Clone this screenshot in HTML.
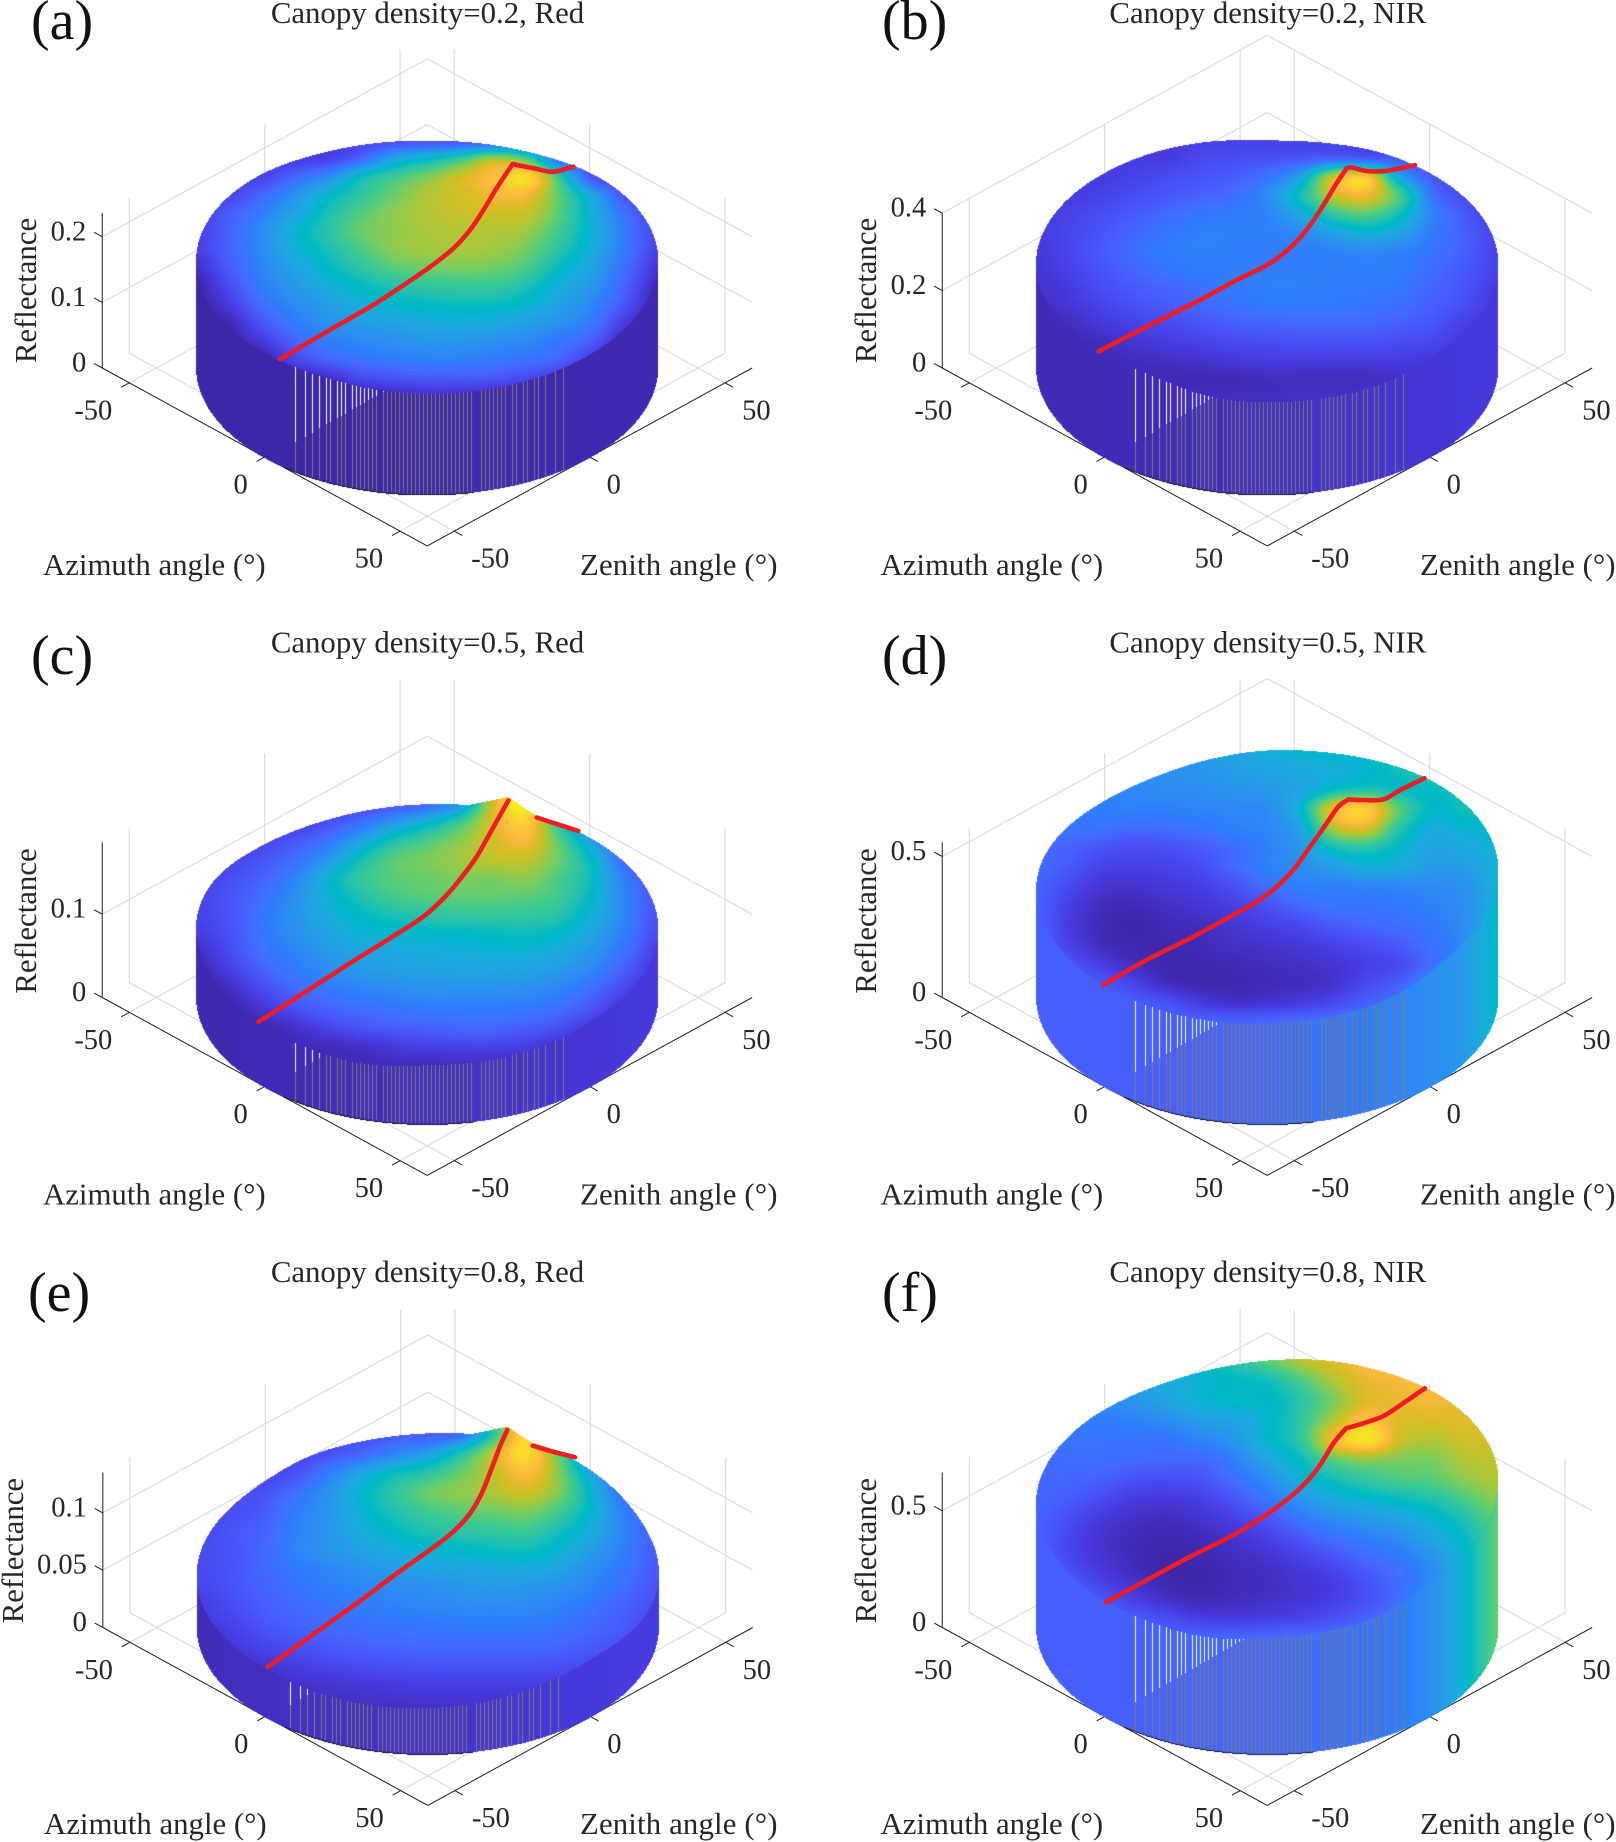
<!DOCTYPE html>
<html lang="en">
<head>
<meta charset="utf-8">
<title>Canopy reflectance surfaces</title>
<style>
html,body{margin:0;padding:0;background:#fff;width:1616px;height:1842px;overflow:hidden}
#stage{position:relative;width:1616px;height:1842px}
#stage>*{position:absolute;left:0;top:0}
text{font-family:"Liberation Serif","Times New Roman",serif;fill:#262626}
.ttl{font-size:30.8px;text-anchor:middle}
.let{font-size:56px;fill:#111}
.axt{font-size:30.8px}
.tick{font-size:28.5px}
</style>
</head>
<body>
<div id="stage">
<svg id="back" width="1616" height="1842"></svg>
<canvas id="surf" width="1616" height="1842"></canvas>
<svg id="front" width="1616" height="1842">
<g id="redlines"></g>
<text class="let" x="31" y="39">(a)</text>
<text class="let" x="882" y="39">(b)</text>
<text class="let" x="31" y="674">(c)</text>
<text class="let" x="882" y="674">(d)</text>
<text class="let" x="28" y="1311">(e)</text>
<text class="let" x="882" y="1311">(f)</text>
<text class="ttl" x="427.5" y="23">Canopy density=0.2, Red</text>
<text class="ttl" x="1267.8" y="23">Canopy density=0.2, NIR</text>
<text class="ttl" x="427.5" y="652.5">Canopy density=0.5, Red</text>
<text class="ttl" x="1267.8" y="652.5">Canopy density=0.5, NIR</text>
<text class="ttl" x="427.5" y="1282">Canopy density=0.8, Red</text>
<text class="ttl" x="1267.8" y="1282">Canopy density=0.8, NIR</text>
<text class="axt" text-anchor="middle" transform="translate(36,290.5) rotate(-90)">Reflectance</text>
<text class="axt" text-anchor="middle" transform="translate(876,290.5) rotate(-90)">Reflectance</text>
<text class="axt" text-anchor="middle" transform="translate(36,921) rotate(-90)">Reflectance</text>
<text class="axt" text-anchor="middle" transform="translate(876,921) rotate(-90)">Reflectance</text>
<text class="axt" text-anchor="middle" transform="translate(23,1550.6) rotate(-90)">Reflectance</text>
<text class="axt" text-anchor="middle" transform="translate(876,1550.6) rotate(-90)">Reflectance</text>
<text class="axt" x="43" y="575">Azimuth angle (°)</text>
<text class="axt" x="880.5" y="575">Azimuth angle (°)</text>
<text class="axt" x="43" y="1204.5">Azimuth angle (°)</text>
<text class="axt" x="880.5" y="1204.5">Azimuth angle (°)</text>
<text class="axt" x="44" y="1834">Azimuth angle (°)</text>
<text class="axt" x="880.5" y="1834">Azimuth angle (°)</text>
<text class="axt" x="580" y="575" textLength="197.5">Zenith angle (°)</text>
<text class="axt" x="1420" y="575" textLength="195.5">Zenith angle (°)</text>
<text class="axt" x="580" y="1204.5" textLength="197.5">Zenith angle (°)</text>
<text class="axt" x="1420" y="1204.5" textLength="195.5">Zenith angle (°)</text>
<text class="axt" x="580" y="1834" textLength="197.5">Zenith angle (°)</text>
<text class="axt" x="1420" y="1834" textLength="195.5">Zenith angle (°)</text>
</svg>
</div>
<script>
// ---------- shared axis ticks ----------
const azimuthTicks=[-50,0,50];
const azimuthTickLabels=['-50','0','50'];
const zenithTicks=[-50,0,50];
const zenithTickLabels=['-50','0','50'];

// ---------- z ticks per panel ----------
const zTicksA=[0,0.1,0.2], zLabelsA=['0','0.1','0.2'];
const zTicksB=[0,0.2,0.4], zLabelsB=['0','0.2','0.4'];
const zTicksC=[0,0.1], zLabelsC=['0','0.1'];
const zTicksD=[0,0.5], zLabelsD=['0','0.5'];
const zTicksE=[0,0.05,0.1], zLabelsE=['0','0.05','0.1'];
const zTicksF=[0,0.5], zLabelsF=['0','0.5'];

// ---------- red line: zenith angle and reflectance (null = hidden by the surface) ----------
const redZenithA=[-52.4,-33.4,-18.2,-5.5,4.7,13.5,19.9,25,30,36.1,43.9,51.5,59.2];
const redReflectA=[.124,.124,.123,.126,.130,.137,.150,.168,.189,.211,.187,.164,.154];
const redZenithB=[-60.6,-42.3,-23.2,-8,4.7,13.5,19.9,25,30,33.9,35.8,41.5,49,59.8];
const redReflectB=[.263,.254,.243,.238,.231,.243,.268,.299,.335,.358,.352,.321,.292,.264];
const redZenithC=[-60.6,-43.5,-25.8,-10.5,2.1,11,17.3,22.4,27.5,34.5,40,45.3,52.9,61.1];
const redReflectC=[.074,.0765,.0796,.0812,.0837,.093,.105,.1175,.136,.162,null,.122,.1005,.0773];
const redZenithD=[-58.8,-43.5,-25.8,-10.5,-.4,7.2,13.5,19.9,26.2,30.6,34.5,40.2,47.8,54.1,63.4];
const redReflectD=[.337,.336,.322,.315,.313,.324,.349,.395,.443,.477,.482,.449,.410,.408,.400];
const redZenithE=[-57.4,-41.2,-23.4,-8.2,4.4,13.3,19.7,24.1,27.9,31,33.8,38,43.5,51.3,59.6];
const redReflectE=[.0362,.041,.0461,.0516,.055,.0589,.0662,.0776,.094,.1084,.119,null,.0927,.0772,.0614];
const redZenithF=[-57.7,-42.3,-25.8,-10.5,2.1,11,18.6,23.7,28.8,33.6,40.2,47.8,55.4,63.6];
const redReflectF=[.454,.447,.438,.423,.425,.438,.465,.502,.561,.593,.571,.552,.557,.566];

// ---------- rim reflectance, left to right across the disc ----------
const backRimA=[.158,.155,.15,.148,.147,.148,.15,.155,.158];
const frontRimA=[.158,.157,.156,.153,.151,.151,.152,.155,.158];
const backRimB=[.262,.262,.262,.258,.251,.255,.262,.262,.262];
const frontRimB=[.262,.262,.26,.24,.236,.236,.24,.255,.262];
const backRimC=[.08,.073,.072,.074,.076,.078,.08,.08,.08];
const frontRimC=[.08,.074,.068,.066,.07,.07,.073,.078,.08];
const backRimD=[.37,.365,.375,.395,.412,.42,.43,.44,.44];
const frontRimD=[.37,.355,.35,.348,.352,.358,.37,.41,.44];
const backRimE=[.044,.046,.052,.054,.056,.058,.06,.055,.046];
const frontRimE=[.043,.043,.04,.039,.04,.042,.046,.05,.046];
const backRimF=[.52,.53,.54,.56,.582,.60,.608,.616,.616];
const frontRimF=[.519,.495,.485,.476,.489,.50,.52,.58,.616];

// ---------- side-wall colour index (percent of colormap) ----------
const wallA=[0,0,0,0,0,0,0,1,1,1,1,1,1,1,1];
const wallB=[2,2,2,2,2,3,3,4,4,5,5,6,6,7,7];
const wallC=[1,1,2,2,2,3,3,4,4,5,5,6,6,7,7];
const wallD=[18,18,18,18,18,19,20,21,23,24,26,28,31,35,46];
const wallE=[2,3,3,4,4,4,5,5,5,6,6,7,7,8,8];
const wallF=[18,18,18,18,19,20,20,21,22,23,24,26,32,45,63];

// ---------- top-surface colour index (percent of colormap), rows back to front ----------
const surfaceA=[
[8,8,8,8,8,10,12,14,14,14,14,12,10,10,10],
[8,8,8,8,10,20,38,46,56,70,60,20,10,10,10],
[8,8,10,20,30,48,58,66,76,84,92,56,14,10,10],
[8,10,20,32,45,55,64,72,76,81,82,62,38,14,10],
[8,17,26,38,51,61,68,72,75,76,75,62,42,22,10],
[9,19,30,44,54,64,68,71,72,72,70,58,43,25,11],
[9,19,30,42,51,60,68,70,71,70,65,54,41,25,10],
[4,17,28,38,47,55,62,65,66,65,60,48,37,22,6],
[0,13,26,34,42,48,53,56,57,57,52,42,33,19,2],
[0,8,22,30,36,42,46,48,49,49,45,37,29,15,0],
[0,2,16,26,32,36,38,41,42,41,37,32,25,8,0],
[0,0,8,20,26,30,32,34,34,32,30,25,18,2,0],
[0,0,0,12,20,24,26,28,28,26,24,20,8,0,0],
[0,0,0,2,6,13,16,18,18,17,13,9,2,0,0],
[0,0,0,0,0,2,4,6,6,5,3,0,0,0,0]];
const surfaceB=[
[8,8,8,8,8,9,10,10,10,10,10,9,8,8,8],
[8,8,8,8,8,12,13,14,16,20,18,16,10,8,8],
[8,8,8,10,13,15,18,24,38,76,86,40,16,10,8],
[8,8,10,13,16,19,22,30,50,74,80,60,24,12,8],
[8,10,13,17,21,24,26,28,40,56,62,50,28,16,8],
[8,11,15,20,24,27,27,27,30,38,44,38,26,18,10],
[7,11,17,22,26,27,26,26,26,28,30,28,24,18,10],
[6,10,15,20,24,26,26,26,26,26,26,26,22,16,10],
[5,8,13,17,20,23,25,27,27,26,26,25,20,15,8],
[3,6,10,14,17,20,23,25,25,25,24,22,18,13,7],
[2,3,7,10,12,15,18,19,20,20,20,18,15,9,6],
[2,2,3,6,8,10,12,13,14,14,14,13,11,7,6],
[2,2,2,3,4,5,7,8,8,8,8,8,7,6,6],
[2,2,2,2,2,2,2,3,3,3,3,4,5,6,6],
[3,3,3,3,3,3,3,3,4,4,5,5,6,6,6]];
const surfaceC=[
[8,8,8,8,8,10,14,20,35,76,98,40,10,8,8],
[8,8,8,8,14,22,34,44,58,78,88,54,18,8,8],
[8,8,10,16,24,38,52,60,68,76,82,62,36,14,8],
[8,10,15,22,34,50,62,66,70,74,74,64,46,20,10],
[9,13,19,28,44,56,62,64,66,66,68,60,48,26,12],
[10,15,22,31,43,52,59,62,63,63,62,58,46,28,14],
[10,15,24,32,41,47,51,54,56,56,56,53,42,28,14],
[7,14,24,31,38,43,45,46,47,48,49,46,38,26,12],
[3,12,22,28,34,38,40,41,42,43,43,40,33,22,9],
[1,8,18,25,30,34,36,37,38,38,37,34,28,17,6],
[0,3,12,20,25,28,30,32,32,32,31,28,21,11,4],
[1,1,6,14,19,22,24,26,26,26,25,22,15,5,4],
[1,1,1,5,11,15,18,19,20,20,18,14,7,5,5],
[1,1,1,2,3,5,8,10,11,11,9,6,5,5,5],
[2,2,2,2,2,2,3,3,4,4,4,5,5,5,5]];
const surfaceD=[
[30,30,30,30,30,34,38,42,45,46,47,50,52,52,52],
[27,27,29,30,31,33,36,38,40,42,45,50,54,54,54],
[25,25,27,29,30,31,33,34,38,48,52,48,48,52,54],
[23,24,26,27,27,28,29,30,45,80,88,62,46,50,50],
[23,24,23,21,22,24,27,29,38,72,78,54,42,44,46],
[21,19,15,13,14,17,22,27,34,50,54,46,38,40,44],
[21,16,10,9,10,13,20,27,30,36,42,40,35,36,42],
[19,12,6,5,7,9,14,22,27,27,28,29,30,32,42],
[19,9,3,2,4,6,9,14,20,24,24,25,27,31,42],
[19,8,2,0,2,3,6,9,12,17,20,22,25,31,42],
[19,10,3,1,1,2,4,5,7,10,13,17,23,30,42],
[19,15,8,3,1,1,2,3,4,6,9,12,22,30,42],
[19,19,16,10,3,1,1,2,3,5,12,18,29,32,42],
[19,19,19,17,14,8,5,6,8,12,18,23,30,34,42],
[19,19,19,19,19,19,19,20,21,23,25,27,30,35,42]];
const surfaceE=[
[10,10,10,10,10,12,16,18,22,55,90,30,14,12,12],
[10,10,10,10,14,20,28,36,52,74,92,60,20,12,12],
[10,10,10,14,26,38,48,54,64,74,84,66,36,14,12],
[10,12,14,22,32,45,55,64,68,72,76,66,44,20,14],
[10,13,17,26,33,44,52,58,62,64,66,58,44,26,16],
[11,15,19,27,33,41,47,52,54,56,57,50,40,27,17],
[12,15,20,28,33,37,41,44,46,48,49,44,35,26,17],
[12,15,20,25,28,32,35,37,38,39,40,37,30,24,16],
[10,14,19,23,26,28,30,31,33,34,33,31,27,21,15],
[8,12,17,21,23,25,27,28,29,29,29,27,23,18,13],
[6,9,14,18,20,22,23,24,25,25,25,23,20,16,10],
[3,6,10,13,16,18,19,20,20,20,20,19,16,13,8],
[2,3,5,8,10,12,13,14,14,14,14,13,12,10,7],
[2,2,3,4,5,6,7,8,8,8,8,8,8,7,7],
[3,3,3,3,4,4,4,5,5,5,6,6,6,7,7]];
const surfaceF=[
[30,30,30,36,42,48,54,62,72,78,84,86,84,84,84],
[28,28,32,36,40,44,47,50,60,72,80,82,84,82,82],
[26,27,30,33,38,44,47,46,54,66,78,80,82,80,80],
[25,26,26,28,31,36,38,45,55,72,86,78,78,78,78],
[23,24,24,24,24,28,33,45,55,82,94,76,72,76,76],
[21,22,22,21,20,20,27,38,48,62,68,66,66,72,74],
[20,20,18,14,13,15,22,30,42,50,56,60,62,68,72],
[20,17,12,8,7,9,15,24,32,40,44,48,52,60,68],
[19,13,7,4,3,5,9,15,24,30,34,38,44,52,64],
[19,11,5,2,1,2,5,9,15,22,26,30,38,48,62],
[19,12,6,2,0,1,3,5,9,14,20,25,32,46,62],
[19,16,9,4,1,0,2,3,6,9,15,22,30,45,62],
[19,19,15,9,4,2,3,4,6,9,14,22,32,45,62],
[19,19,19,17,13,9,8,9,11,14,19,24,32,44,62],
[19,19,19,19,19,20,20,21,22,23,24,26,31,44,62]];

// ---------- colormap ----------
const parula=[[.2422,.1504,.6603],[.2504,.165,.7076],[.2578,.1818,.7511],[.2647,.1978,.7952],[.2706,.2147,.8364],[.2751,.2342,.871],[.2783,.2559,.8991],[.2803,.2782,.9221],[.2813,.3006,.9414],[.281,.3228,.9579],[.2795,.3447,.9717],[.276,.3667,.9829],[.2699,.3892,.9906],[.2602,.4123,.9952],[.244,.4358,.9988],[.2206,.4603,.9973],[.1963,.4847,.9892],[.1834,.5074,.9798],[.1786,.5289,.9682],[.1764,.5499,.952],[.1687,.5703,.9359],[.154,.5902,.9218],[.146,.6091,.9079],[.138,.6276,.8973],[.1248,.6459,.8883],[.1113,.6635,.8763],[.0952,.6798,.8598],[.0689,.6948,.8394],[.0297,.7082,.8163],[.0036,.7203,.7917],[.0067,.7312,.766],[.0433,.7411,.7394],[.0964,.75,.712],[.1408,.7584,.6842],[.1717,.767,.6554],[.1938,.7758,.6251],[.2161,.7843,.5923],[.247,.7918,.5567],[.2906,.7973,.5188],[.3406,.8008,.4789],[.3909,.8029,.4354],[.4456,.8024,.3909],[.5044,.7993,.348],[.5616,.7942,.3045],[.6174,.7876,.2612],[.672,.7793,.2227],[.7242,.7698,.191],[.7738,.7598,.1646],[.8203,.7498,.1535],[.8634,.7406,.1596],[.9035,.733,.1774],[.9393,.7288,.21],[.9728,.7298,.2394],[.9956,.7434,.2371],[.997,.7659,.2199],[.9952,.7893,.2028],[.9892,.8136,.1885],[.9786,.8386,.1766],[.9676,.8639,.1643],[.961,.889,.1537],[.9597,.9135,.1423],[.9628,.9373,.1265],[.9691,.9606,.1064],[.9769,.9839,.0805]];

// ---------- layout ----------
const KX=2.71,KY=1.5,HALF=60,RX=231.2,RY=128;
const AXIS_KY=1.483;
const SVGNS='http://www.w3.org/2000/svg';
const gapOffsets=[0,10,17,24,31,35,42,46,50,57,61,65,69,73,77,81,88,92,96,100,104,108,112,116,120,124,128,132,136,140,144,148,152,156,160,164,168,172,176,186,190,194,198,202,206,210,217,221,228,232,239,243,250,260,268];
const panels=[
{id:'a',cx:427.2,fy:366.5,zs:670,azs:656,zmax:.2365,top:140,bot:393.3,surface:surfaceA,wall:wallA,backRim:backRimA,frontRim:frontRimA,zTicks:zTicksA,zLabels:zLabelsA,redZ:redZenithA,redR:redReflectA,tent:null,gap:0},
{id:'b',cx:1267.2,fy:366.5,zs:393,azs:387,zmax:.4005,top:140,bot:396.7,surface:surfaceB,wall:wallB,backRim:backRimB,frontRim:frontRimB,zTicks:zTicksB,zLabels:zLabelsB,redZ:redZenithB,redR:redReflectB,tent:null,gap:0},
{id:'c',cx:427.2,fy:996,zs:846,azs:833,zmax:.186,top:803.3,bot:1063.3,surface:surfaceC,wall:wallC,backRim:backRimC,frontRim:frontRimC,zTicks:zTicksC,zLabels:zLabelsC,redZ:redZenithC,redR:redReflectC,tent:[40,28],gap:0},
{id:'d',cx:1267.2,fy:996,zs:286.5,azs:282,zmax:.55,top:750,bot:1021.7,surface:surfaceD,wall:wallD,backRim:backRimD,frontRim:frontRimD,zTicks:zTicksD,zLabels:zLabelsD,redZ:redZenithD,redR:redReflectD,tent:null,gap:0},
{id:'e',cx:427.8,fy:1626,zs:1163,azs:1146,zmax:.1353,top:1433.3,bot:1706.7,surface:surfaceE,wall:wallE,backRim:backRimE,frontRim:frontRimE,zTicks:zTicksE,zLabels:zLabelsE,redZ:redZenithE,redR:redReflectE,tent:[35,24],gap:-6},
{id:'f',cx:1267.2,fy:1626,zs:237,azs:233.4,zmax:.664,top:1360,bot:1638.3,surface:surfaceF,wall:wallF,backRim:backRimF,frontRim:frontRimF,zTicks:zTicksF,zLabels:zLabelsF,redZ:redZenithF,redR:redReflectF,tent:null,gap:0}
];

// ---------- axis functions ----------
function sx(p,zen,azi){return p.cx+(zen+azi)*KX;}
function sy(p,zen,azi,refl){return p.fy+(azi-zen)*KY-(refl||0)*p.zs;}
function ax(p,zen,azi){return p.cx+(zen+azi)*2.708;}
function ay(p,zen,azi,refl){return p.fy+1.5+(azi-zen)*AXIS_KY-(refl||0)*p.azs;}
function lineAzimuth(zen){return -3.5-0.03*zen;}

// ---------- svg helpers ----------
const back=document.getElementById('back');
const redG=document.getElementById('redlines');
function line(parent,x1,y1,x2,y2,color,w,name){
  const el=document.createElementNS(SVGNS,'line');
  el.setAttribute('x1',x1);el.setAttribute('y1',y1);el.setAttribute('x2',x2);el.setAttribute('y2',y2);
  el.setAttribute('stroke',color);el.setAttribute('stroke-width',w);
  
  
  parent.appendChild(el);
}
function label(parent,x,y,str,anchor,name){
  const el=document.createElementNS(SVGNS,'text');
  el.setAttribute('x',x);el.setAttribute('y',y);el.setAttribute('text-anchor',anchor);el.setAttribute('class','tick');
  el.textContent=str;
  
  
  parent.appendChild(el);
}

// ---------- axes ----------
function drawAxes(p){
  const g=document.createElementNS(SVGNS,'g');
  
  
  back.appendChild(g);
  const GC='#dddddd',AC='#1f1f1f';
  azimuthTicks.forEach(a=>{
    line(g,ax(p,-HALF,a),ay(p,-HALF,a),ax(p,HALF,a),ay(p,HALF,a),GC,1.2,'floor-gridline-azimuth');
    line(g,ax(p,HALF,a),ay(p,HALF,a),ax(p,HALF,a),ay(p,HALF,a,p.zmax),GC,1.2,'wall-gridline-azimuth');
  });
  zenithTicks.forEach(z=>{
    line(g,ax(p,z,-HALF),ay(p,z,-HALF),ax(p,z,HALF),ay(p,z,HALF),GC,1.2,'floor-gridline-zenith');
    line(g,ax(p,z,-HALF),ay(p,z,-HALF),ax(p,z,-HALF),ay(p,z,-HALF,p.zmax),GC,1.2,'wall-gridline-zenith');
  });
  p.zTicks.forEach((t,i)=>{
    if(t>0){
      line(g,ax(p,-HALF,-HALF),ay(p,-HALF,-HALF,t),ax(p,HALF,-HALF),ay(p,HALF,-HALF,t),GC,1.2,'wall-gridline-z');
      line(g,ax(p,HALF,-HALF),ay(p,HALF,-HALF,t),ax(p,HALF,HALF),ay(p,HALF,HALF,t),GC,1.2,'wall-gridline-z');
    }
    line(g,ax(p,-HALF,-HALF),ay(p,-HALF,-HALF,t),ax(p,-HALF,-HALF-3),ay(p,-HALF,-HALF-3,t),AC,1,'z-tick');
    label(g,ax(p,-HALF,-HALF)-16,ay(p,-HALF,-HALF,t)+3.5,p.zLabels[i],'end','z-tick-label');
  });
  line(g,ax(p,-HALF,-HALF),ay(p,-HALF,-HALF),ax(p,-HALF,-HALF),ay(p,-HALF,-HALF,p.zmax),AC,1,'z-axis');
  line(g,ax(p,-HALF,-HALF),ay(p,-HALF,-HALF),ax(p,-HALF,HALF),ay(p,-HALF,HALF),AC,1,'azimuth-axis');
  line(g,ax(p,-HALF,HALF),ay(p,-HALF,HALF),ax(p,HALF,HALF),ay(p,HALF,HALF),AC,1,'zenith-axis');
  azimuthTicks.forEach((a,i)=>{
    line(g,ax(p,-HALF,a),ay(p,-HALF,a),ax(p,-HALF-3,a),ay(p,-HALF-3,a),AC,1,'azimuth-tick');
    label(g,ax(p,-HALF,a)-17,ay(p,-HALF,a)+36.5,azimuthTickLabels[i],'end','azimuth-tick-label');
  });
  zenithTicks.forEach((z,i)=>{
    line(g,ax(p,z,HALF),ay(p,z,HALF),ax(p,z,HALF+3),ay(p,z,HALF+3),AC,1,'zenith-tick');
    label(g,ax(p,z,HALF)+17,ay(p,z,HALF)+36.5,zenithTickLabels[i],'start','zenith-tick-label');
  });
}

// ---------- interpolation ----------
function cr(a,b,c,d,f){return b+.5*f*(c-a+f*(2*a-5*b+4*c-d+f*(3*(b-c)+d-a)));}
function sampleGrid(g,fr,fc){
  const n=g.length-1,m=g[0].length-1;
  fr=Math.max(0,Math.min(n,fr));fc=Math.max(0,Math.min(m,fc));
  const r=Math.min(n-1,Math.floor(fr)),c=Math.min(m-1,Math.floor(fc));
  const tr=fr-r,tc=fc-c,v=[];
  for(let i=-1;i<=2;i++){
    const row=g[Math.max(0,Math.min(n,r+i))];
    v.push(cr(row[Math.max(0,c-1)],row[c],row[c+1],row[Math.min(m,c+2)],tc));
  }
  return cr(v[0],v[1],v[2],v[3],tr);
}
function smoothArr(a,u){return sampleGrid([a,a],0,(u+1)/2*(a.length-1));}
function colorAt(t){
  const f=Math.max(0,Math.min(1,t))*(parula.length-1);
  const i=Math.min(parula.length-2,Math.floor(f)),k=f-i,a=parula[i],b=parula[i+1];
  return [(a[0]+(b[0]-a[0])*k)*255,(a[1]+(b[1]-a[1])*k)*255,(a[2]+(b[2]-a[2])*k)*255];
}

// ---------- surface ----------
const canvas=document.getElementById('surf');
const ctx=canvas.getContext('2d');
function drawSurface(p){
  const rimTop=x=>{const u=(x-p.cx)/RX,s=Math.sqrt(Math.max(0,1-u*u));return p.fy-RY*s-smoothArr(p.backRim,u)*p.zs;};
  const rimFront=x=>{const u=(x-p.cx)/RX,s=Math.sqrt(Math.max(0,1-u*u));return p.fy+RY*s-smoothArr(p.frontRim,u)*p.zs;};
  const rimBottom=x=>{const u=(x-p.cx)/RX,s=Math.sqrt(Math.max(0,1-u*u));return p.fy+RY*s;};
  let apexX=0,apexY=0;
  if(p.tent){
    let best=-1,bz=0;
    p.redR.forEach((r,i)=>{if(r!==null&&r>best){best=r;bz=p.redZ[i];}});
    const az=lineAzimuth(bz);
    apexX=sx(p,bz,az);apexY=sy(p,bz,az,best)-4;
  }
  const x0=Math.floor(p.cx-RX),x1=Math.ceil(p.cx+RX);
  const yMin=Math.floor(Math.min(p.top,apexY||p.top))-30,yMax=Math.ceil(p.fy+RY)+2;
  const W=x1-x0+1,H=yMax-yMin+1;
  const img=ctx.createImageData(W,H),d=img.data;
  const rows=p.surface.length-1,cols=p.surface[0].length-1;
  for(let x=x0;x<=x1;x++){
    const xc=x+.5;
    const u=(xc-p.cx)/RX;
    if(Math.abs(u)>1)continue;
    let yT=rimTop(xc);
    if(p.tent){
      const L=p.tent[0],R=p.tent[1];
      if(xc>apexX-L&&xc<=apexX){const fy=rimTop(apexX-L);yT=Math.min(yT,apexY+(apexX-xc)/L*(fy-apexY));}
      if(xc>apexX&&xc<apexX+R){const fy=rimTop(apexX+R);yT=Math.min(yT,apexY+(xc-apexX)/R*(fy-apexY));}
    }
    const yF=rimFront(xc),yB=rimBottom(xc);
    const fc=(u+1)/2*cols;
    const wc=colorAt(smoothArr(p.wall,u)/100);
    for(let y=Math.ceil(yT);y<=yB;y++){
      if(y<yMin||y>yMax)continue;
      let c=wc;
      if(y<yF){
        const fr=(y-p.top)/(p.bot-p.top)*rows;
        c=colorAt(sampleGrid(p.surface,fr,fc)/100);
      }
      const k=((y-yMin)*W+(x-x0))*4;
      d[k]=c[0];d[k+1]=c[1];d[k+2]=c[2];d[k+3]=255;
    }
  }
  // gaps between mesh facets on the front wall
  const x00=p.cx-132+p.gap;
  gapOffsets.forEach(off=>{
    const x=Math.round(x00+off),xc=x+.5;
    const yF=Math.ceil(rimFront(xc)),yB=rimBottom(xc)-1;
    const bound=p.fy+75.2-0.576*(x-(p.cx-132));
    for(let y=yF;y<=yB;y++){
      const k=((y-yMin)*W+(x-x0))*4;
      if(k<0||k>=d.length)continue;
      if(y<bound){d[k]=255;d[k+1]=255;d[k+2]=255;}
      else{d[k]=126;d[k+1]=124;d[k+2]=112;}
    }
  });
  // dark lower mesh edge
  for(let x=Math.round(p.cx-143);x<=p.cx+46;x++){
    const y=Math.round(rimBottom(x+.5));
    const k=((y-yMin)*W+(x-x0))*4;
    if(k>=0&&k<d.length){d[k]=20;d[k+1]=20;d[k+2]=30;d[k+3]=255;}
  }
  ctx.putImageData(img,x0,yMin);
}

// ---------- red lines ----------
function drawRed(p){
  let peak=0,best=-1;
  p.redR.forEach((r,i)=>{if(r!==null&&r>best){best=r;peak=i;}});
  const runs=[];let cur=[];
  p.redZ.forEach((z,i)=>{
    const r=p.redR[i];
    if(r===null){if(cur.length)runs.push(cur);cur=[];return;}
    const a=lineAzimuth(z);
    const pt=[sx(p,z,a),sy(p,z,a,r)];
    cur.push(pt);
    if(i===peak){runs.push(cur);cur=[pt];}
  });
  if(cur.length>1)runs.push(cur);
  let path='';
  runs.forEach(pts=>{
    path+='M'+pts[0][0].toFixed(1)+' '+pts[0][1].toFixed(1);
    for(let i=0;i<pts.length-1;i++){
      const a=pts[i-1]||pts[i],b=pts[i],c=pts[i+1],e=pts[i+2]||c;
      path+='C'+(b[0]+(c[0]-a[0])/6).toFixed(1)+' '+(b[1]+(c[1]-a[1])/6).toFixed(1)+' '+(c[0]-(e[0]-b[0])/6).toFixed(1)+' '+(c[1]-(e[1]-b[1])/6).toFixed(1)+' '+c[0].toFixed(1)+' '+c[1].toFixed(1);
    }
  });
  const el=document.createElementNS(SVGNS,'path');
  el.setAttribute('d',path);
  el.setAttribute('fill','none');
  el.setAttribute('stroke','#ee1c25');
  el.setAttribute('stroke-width','4.6');
  el.setAttribute('stroke-linejoin','round');
  el.setAttribute('stroke-linecap','round');
  
  
  redG.appendChild(el);
}

panels.forEach(p=>{drawAxes(p);drawSurface(p);drawRed(p);});
</script>
</body>
</html>
